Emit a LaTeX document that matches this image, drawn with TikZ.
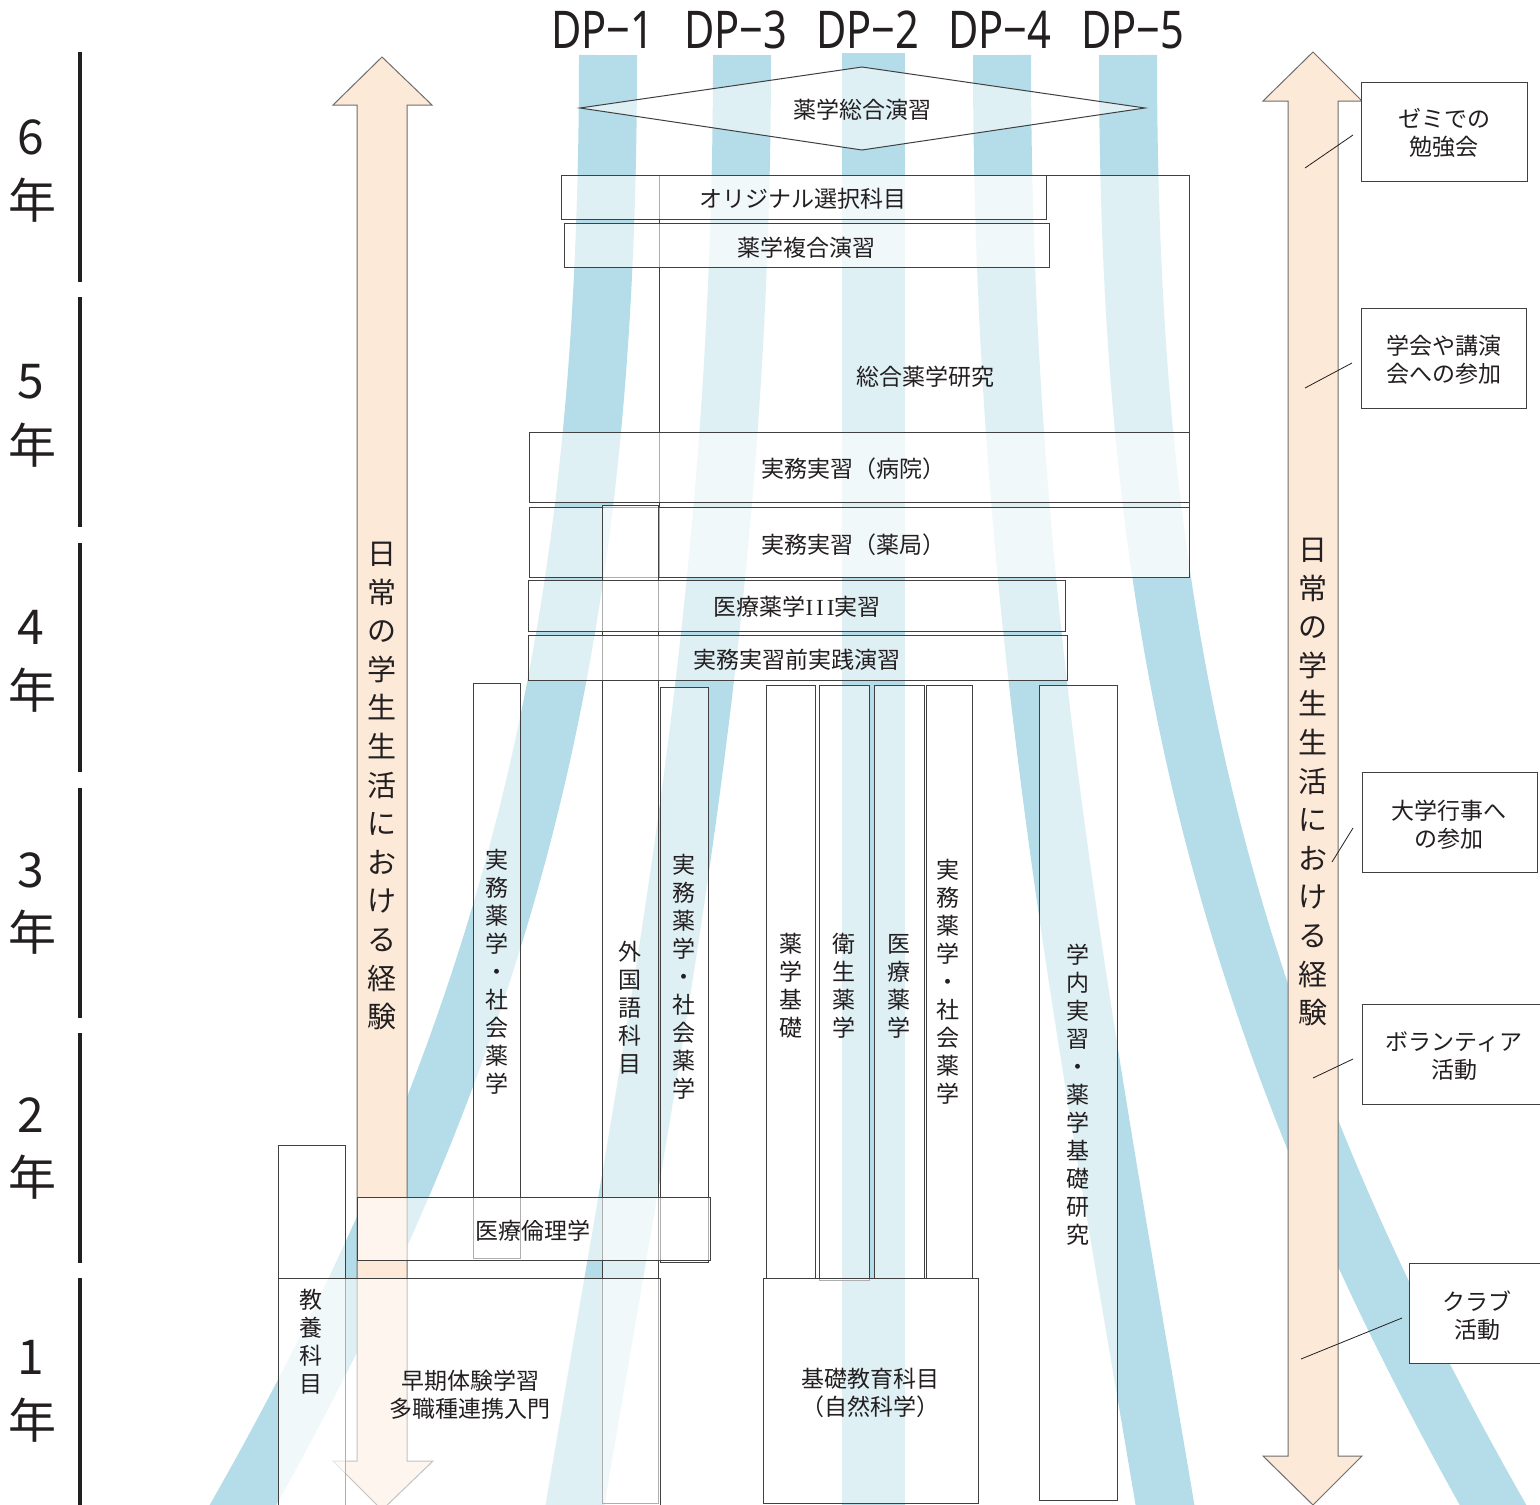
\documentclass[tikz,border=0pt]{standalone}
\usepackage{fontspec}
\usepackage{graphicx}
\setmainfont{Noto Sans CJK JP}
\newfontfamily\latinfont{Noto Sans}
\newfontfamily\seriffont{Liberation Serif}
\definecolor{band}{RGB}{181,221,233}
\definecolor{peach}{RGB}{252,233,216}
\definecolor{edge}{RGB}{64,64,64}
\definecolor{txt}{RGB}{35,31,32}
\definecolor{arrowedge}{RGB}{110,110,110}
\begin{document}
\begin{tikzpicture}[x=1pt,y=-1pt,
  bandline/.style={draw=band,line width=58pt},
  boxst/.style={draw=edge,line width=1pt,fill=white,fill opacity=0.58},
  callbox/.style={draw=edge,line width=1pt,fill=white},
  arrowst/.style={fill=peach,draw=arrowedge,line width=1pt},
  lbl/.style={text=txt,inner sep=0pt,font=\fontsize{23}{28}\selectfont,align=center},
  arrtxt/.style={text=txt,inner sep=0pt,font=\fontsize{29}{38.6}\selectfont,align=center},
  yearline/.style={draw=txt,line width=4.5pt},
  yeartxt/.style={text=txt,inner sep=0pt,font=\fontsize{48}{56}\selectfont},
  dptxt/.style={text=txt,inner sep=0pt,font=\latinfont\fontsize{52}{60}\selectfont},
  callline/.style={draw=txt,line width=0.8pt},
]
\useasboundingbox (0,0) rectangle (1540,1505);
\clip (0,0) rectangle (1540,1505);
\fill[white] (0,0) rectangle (1540,1505);

% ---- DP bands ----
\draw[bandline] (608,55) .. controls (608,600) and (528,1000) .. (243,1505) -- (209,1565);
\draw[bandline] (742,55) .. controls (742,600) and (660,1000) .. (575,1505) -- (565,1565);
\fill[band] (842,53) rectangle (905,1510);
\draw[bandline] (1002,55) .. controls (1002,600) and (1080,1000) .. (1165,1505) -- (1175,1565);
\draw[bandline] (1128,55) .. controls (1128,600) and (1208,1000) .. (1493,1505) -- (1527,1565);

% ---- DP labels ----
\node[dptxt] (dp1) at (603,30) {\scalebox{0.8}[1]{DP−1}};
\node[dptxt] (dp3) at (736,30) {\scalebox{0.8}[1]{DP−3}};
\node[dptxt] (dp2) at (868,30) {\scalebox{0.8}[1]{DP−2}};
\node[dptxt] (dp4) at (1000,30) {\scalebox{0.8}[1]{DP−4}};
\node[dptxt] (dp5) at (1133,30) {\scalebox{0.8}[1]{DP−5}};

% ---- experience arrows ----
\draw[arrowst] (382,57) -- (432,105) -- (407,105) -- (407,1461) -- (433,1461) -- (382,1510) -- (333,1461) -- (357,1461) -- (357,105) -- (333,105) -- cycle;
\draw[arrowst] (1313,52) -- (1362,101) -- (1338,101) -- (1338,1456) -- (1362,1456) -- (1313,1505) -- (1263,1456) -- (1288,1456) -- (1288,101) -- (1263,101) -- cycle;

% ---- course boxes ----
\path[boxst] (580,108) -- (862,67) -- (1145,108) -- (862,150) -- cycle;
\path[boxst] (659,175) rectangle (1189,577);
\path[boxst] (561,175) rectangle (1046,219);
\path[boxst] (564,223) rectangle (1049,267);
\path[boxst] (529,432) rectangle (1189,502);
\path[boxst] (529,507) rectangle (1189,577);
\path[boxst] (602,505) rectangle (658,1503);
\path[boxst] (528,580) rectangle (1065,631);
\path[boxst] (528,635) rectangle (1067,680);
\path[boxst] (473,683) rectangle (520,1258);
\path[boxst] (660,687) rectangle (708,1262);
\path[boxst] (766,685) rectangle (815,1278);
\path[boxst] (819,685) rectangle (869,1280);
\path[boxst] (874,685) rectangle (924,1278);
\path[boxst] (926,685) rectangle (972,1278);
\path[boxst] (1039,685) rectangle (1117,1500);
\path[boxst] (357,1197) rectangle (710,1260);
\path[boxst] (278,1145) rectangle (345,1545);
\path[boxst] (278,1278) rectangle (660,1545);
\path[boxst] (763,1278) rectangle (978,1503);

% ---- course labels ----
\node[lbl] (sogoen) at (862,110) {薬学総合演習};
\node[lbl] (orig) at (803,199) {オリジナル選択科目};
\node[lbl] (fukugo) at (806,248) {薬学複合演習};
\node[lbl] (kenkyu) at (925,377) {総合薬学研究};
\node[lbl] (byoin) at (853,469) {実務実習（病院）};
\node[lbl] (yakkyoku) at (853,545) {実務実習（薬局）};
\node[lbl] (iryo3) at (797,607) {医療薬学{\seriffont I\hspace{3pt}I\hspace{3pt}I}実習};
\node[lbl] (jizen) at (797,660) {実務実習前実践演習};
\node[lbl] (gaikoku) at (630,1008) {外\\国\\語\\科\\目};
\node[lbl] (jimu1) at (497,972) {実\\務\\薬\\学\\・\\社\\会\\薬\\学};
\node[lbl] (jimu2) at (684,977) {実\\務\\薬\\学\\・\\社\\会\\薬\\学};
\node[lbl] (kiso) at (791,986) {薬\\学\\基\\礎};
\node[lbl] (eisei) at (844,986) {衛\\生\\薬\\学};
\node[lbl] (iryo) at (899,986) {医\\療\\薬\\学};
\node[lbl] (jimu3) at (948,982) {実\\務\\薬\\学\\・\\社\\会\\薬\\学};
\node[lbl] (gakunai) at (1078,1095) {学\\内\\実\\習\\・\\薬\\学\\基\\礎\\研\\究};
\node[lbl] (rinri) at (533,1231) {医療倫理学};
\node[lbl] (kyoyo) at (311,1342) {教\\養\\科\\目};
\node[lbl] (soki) at (470,1395) {早期体験学習\\多職種連携入門};
\node[lbl] (kisokyoiku) at (870,1393) {基礎教育科目\\（自然科学）};

% ---- arrow labels ----
\node[arrtxt] (nichijoL) at (382,786) {日\\常\\の\\学\\生\\生\\活\\に\\お\\け\\る\\経\\験};
\node[arrtxt] (nichijoR) at (1313,782) {日\\常\\の\\学\\生\\生\\活\\に\\お\\け\\る\\経\\験};

% ---- callout boxes ----
\path[callbox] (1361,82) rectangle (1527,181);
\node[lbl] (zemi) at (1444,133) {ゼミでの\\勉強会};
\path[callbox] (1361,308) rectangle (1526,408);
\node[lbl] (gakkai) at (1444,360) {学会や講演\\会への参加};
\path[callbox] (1362,772) rectangle (1537,872);
\node[lbl] (gyoji) at (1449,825) {大学行事へ\\の参加};
\path[callbox] (1362,1004) rectangle (1550,1104);
\node[lbl] (volunteer) at (1454,1056) {ボランティア\\活動};
\path[callbox] (1409,1263) rectangle (1550,1363);
\node[lbl] (club) at (1477,1316) {クラブ\\活動};

\coordinate (a1) at (1305,168); \coordinate (b1) at (1353,135);
\coordinate (a2) at (1305,388); \coordinate (b2) at (1352,363);
\coordinate (a3) at (1332,862); \coordinate (b3) at (1353,828);
\coordinate (a4) at (1313,1078); \coordinate (b4) at (1353,1059);
\coordinate (a5) at (1301,1359); \coordinate (b5) at (1402,1318);
\draw[callline] (a1) -- (b1);
\draw[callline] (a2) -- (b2);
\draw[callline] (a3) -- (b3);
\draw[callline] (a4) -- (b4);
\draw[callline] (a5) -- (b5);

% ---- years ----
\draw[yearline] (80,52) -- (80,282);
\draw[yearline] (80,297) -- (80,527);
\draw[yearline] (80,543) -- (80,772);
\draw[yearline] (80,788) -- (80,1018);
\draw[yearline] (80,1033) -- (80,1263);
\draw[yearline] (80,1278) -- (80,1510);
\node[yeartxt] (y6) at (31,137) {6};
\node[yeartxt] (y6n) at (33,200) {年};
\node[yeartxt] (y5) at (31,382) {5};
\node[yeartxt] (y5n) at (33,445) {年};
\node[yeartxt] (y4) at (31,627) {4};
\node[yeartxt] (y4n) at (33,690) {年};
\node[yeartxt] (y3) at (31,870) {3};
\node[yeartxt] (y3n) at (33,932) {年};
\node[yeartxt] (y2) at (31,1115) {2};
\node[yeartxt] (y2n) at (33,1177) {年};
\node[yeartxt] (y1) at (31,1357) {1};
\node[yeartxt] (y1n) at (33,1420) {年};
\end{tikzpicture}
\end{document}
